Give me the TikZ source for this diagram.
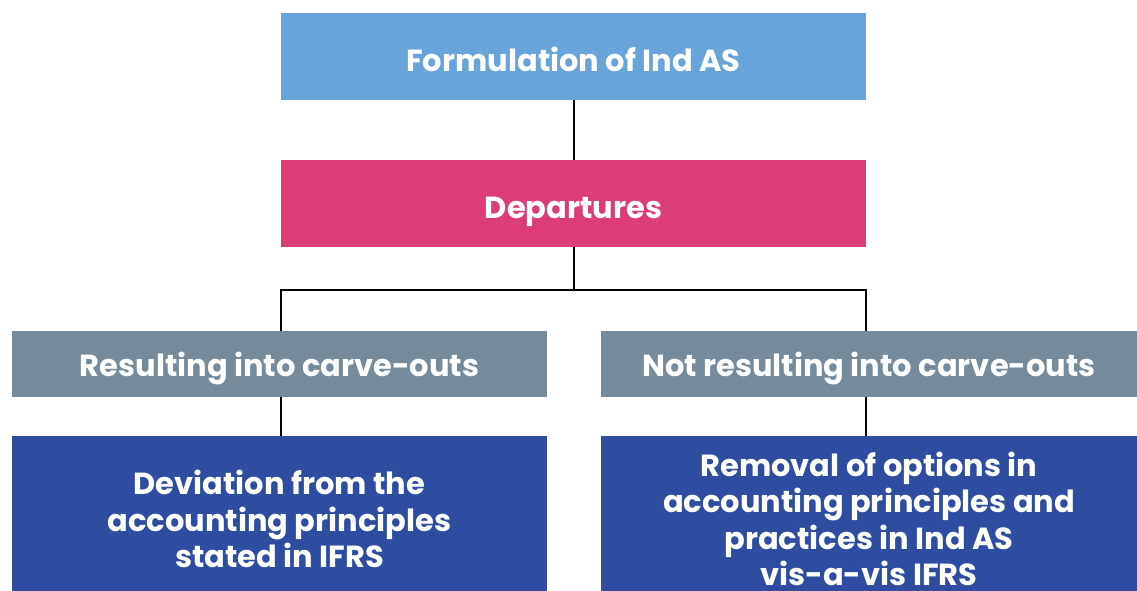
\documentclass[tikz,border=0pt]{standalone}
\usepackage{fontspec}
\setmainfont{Poppins}
\usetikzlibrary{calc}
\begin{document}
\begin{tikzpicture}[x=1pt,y=-1pt,
  box/.style={rectangle, inner sep=0pt, align=center, text=white,
    font=\fontsize{30.5}{36.5}\selectfont\bfseries},
  headbox/.style={box, minimum width=585pt, minimum height=87pt,
    text height=29.5pt, text depth=0pt},
  midbox/.style={box, fill=slategrey, minimum height=66pt,
    text height=24.6pt, text depth=0pt},
  leafbox/.style={box, fill=deepblue, minimum height=166pt},
  link/.style={draw=black, line width=2pt},
]
\definecolor{topblue}{HTML}{68A4D9}
\definecolor{deppink}{HTML}{DC3D79}
\definecolor{slategrey}{HTML}{758B9C}
\definecolor{deepblue}{HTML}{2E4DA0}
\clip (0,0) rectangle (1137,590);
\fill[white] (0,0) rectangle (1137,590);

% boxes
\node[headbox, fill=topblue] (top) at (573.5,56.5) {Formulation of Ind AS};
\node[headbox, fill=deppink] (dep) at (573.5,203.5) {Departures};
\node[midbox, minimum width=535pt] (gl) at (279.5,364) {Resulting into carve-outs};
\node[midbox, minimum width=536pt] (gr) at (869,364) {Not resulting into carve-outs};
\node[leafbox, minimum width=535pt] (bl) at (279.5,519) {Deviation from the\\accounting principles\\stated in IFRS};
\node[leafbox, minimum width=536pt] (br) at (869,519) {Removal of options in\\accounting principles and\\practices in Ind AS\\vis-a-vis IFRS};

% connectors
\draw[link] (top.south) -- (dep.north);
\coordinate (j) at ($(dep.south)+(0,43)$);
\draw[link] (dep.south) -- (j);
\draw[link] (gl.north -| top.west) |- (j) -| (gr.north -| top.east);
\draw[link] (gl.south -| top.west) -- (bl.north -| top.west);
\draw[link] (gr.south -| top.east) -- (br.north -| top.east);
\end{tikzpicture}
\end{document}
